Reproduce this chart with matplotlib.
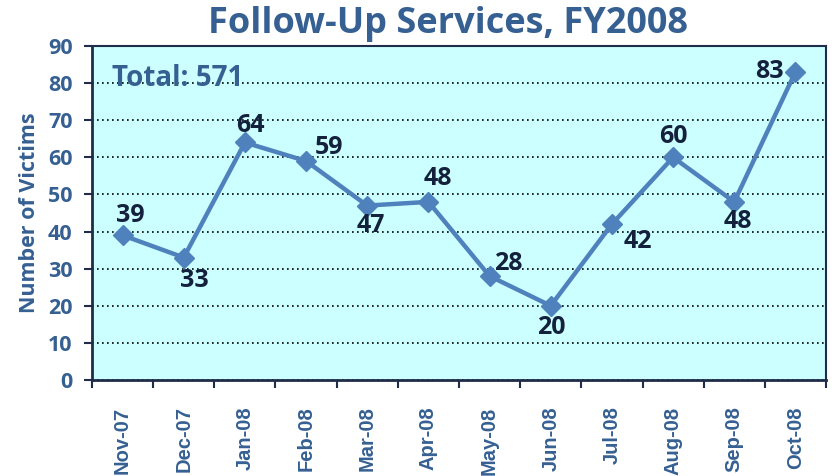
import matplotlib.pyplot as plt
from matplotlib.ticker import FixedLocator

months = ['Nov-07', 'Dec-07', 'Jan-08', 'Feb-08', 'Mar-08', 'Apr-08',
          'May-08', 'Jun-08', 'Jul-08', 'Aug-08', 'Sep-08', 'Oct-08']
victims = [39, 33, 64, 59, 47, 48, 28, 20, 42, 60, 48, 83]
# label offsets in pixels (dx, dy), hand placed like the original
offsets = [(8, 20), (11, -23), (5, 17), (23, 14), (4, -20), (9, 23),
           (19, 13), (1, -22), (26, -17), (0, 21), (4, -20), (-26, 0)]

blue_txt = '#366092'
navy = '#1F2D4A'
line_c = '#4F81BD'

fig = plt.figure(figsize=(8.32, 4.76), dpi=100)
ax = fig.add_axes([92 / 832, 1 - 380 / 476, 734 / 832, 334 / 476])
ax.set_facecolor('#CCFFFF')

x = list(range(len(months)))
ax.plot(x, victims, color=line_c, lw=3.2, marker='D', ms=10,
        markerfacecolor=line_c, markeredgecolor=line_c, zorder=3)

for xi, v, (dx, dy) in zip(x, victims, offsets):
    ax.annotate(str(v), (xi, v), xytext=(dx * 0.72, dy * 0.72),
                textcoords='offset points', ha='center', va='center',
                fontsize=18, fontweight='bold', color='#14213D',
                family='Open Sans', zorder=4)

ax.set_xlim(-0.5, 11.5)
ax.set_ylim(0, 90)
ax.set_yticks(range(0, 91, 10))
ax.yaxis.grid(True, linestyle=(0, (1, 2)), color='black', lw=1.2)
ax.set_axisbelow(True)

ax.set_xticks(x)
ax.set_xticklabels(months, rotation=90, fontsize=14.5, fontweight='bold',
                   color=blue_txt, family='Liberation Sans')
ax.xaxis.set_minor_locator(FixedLocator([i - 0.5 for i in range(13)]))
ax.tick_params(axis='x', which='major', length=0, pad=19)
ax.tick_params(axis='x', which='minor', length=6, width=1.5, color=navy)
ax.tick_params(axis='y', length=6, width=1.5, color=navy, pad=8)
for lab in ax.get_yticklabels():
    lab.set_fontsize(15.5)
    lab.set_fontweight('bold')
    lab.set_color(blue_txt)
    lab.set_family('Open Sans')

for side in ['left', 'bottom']:
    ax.spines[side].set_color(navy)
    ax.spines[side].set_linewidth(2)
for side in ['top', 'right']:
    ax.spines[side].set_color(navy)
    ax.spines[side].set_linewidth(1.5)

ax.set_ylabel('Number of Victims', fontsize=15.5, fontweight='bold',
              color=blue_txt, family='Open Sans', labelpad=6)

ax.text(0.027, 0.945, 'Total: 571', transform=ax.transAxes, fontsize=20,
        fontweight='bold', color=blue_txt, family='Open Sans',
        ha='left', va='top')

fig.text(448 / 832, 1 - 24 / 476, 'Follow-Up Services, FY2008',
         fontsize=26, fontweight='bold', color=blue_txt, family='Open Sans',
         ha='center', va='center')

fig.savefig('out.png', dpi=100)
